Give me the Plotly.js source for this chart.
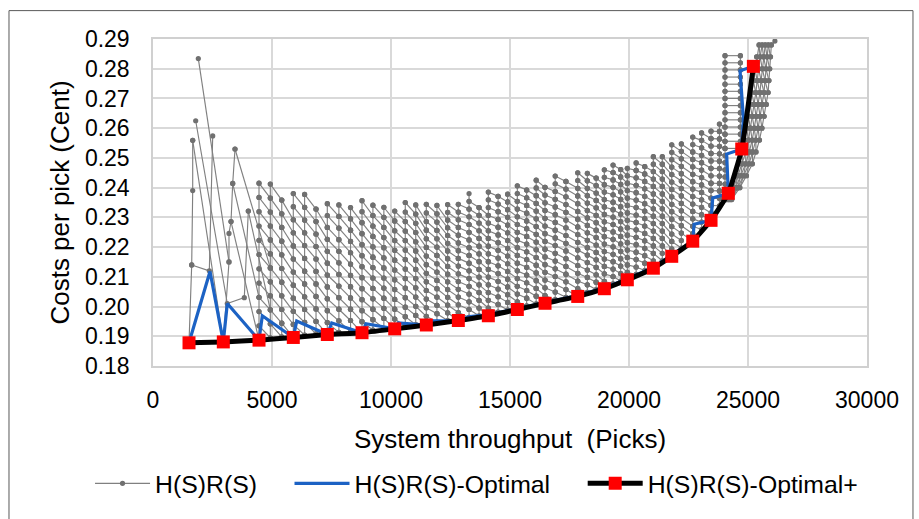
<!DOCTYPE html>
<html><head><meta charset="utf-8">
<script src="https://cdn.plot.ly/plotly-3.0.1.min.js"></script>
<style>html,body{margin:0;padding:0;background:#fff;}#chart{width:919px;height:519px;}</style>
</head><body><div id="chart"></div>
<script>
// ---------- H(S)R(S)-Optimal+ (red squares, black line) ----------
const optPlusX = [1513,2954,4454,5895,7324,8782,10156,11484,12829,14090,15308,16472,17846,18964,19930,21023,21796,22678,23447,24174,24737,25225];
const optPlusY = [0.1878,0.1881,0.1887,0.1896,0.1906,0.1912,0.1925,0.1938,0.1953,0.1969,0.1990,0.2011,0.2034,0.2060,0.2090,0.2129,0.2169,0.2220,0.2290,0.2381,0.2530,0.2808];

// ---------- H(S)R(S)-Optimal (blue) ----------
const optX = [1513,2395,2954,3122,4454,4593,5895,6038,7324,7509,8782,8950,10156,10307,11484,11700,12829,13300,14090,15308,16472,17846,18964,19930,21023,21796,22678,22735,23447,23518,24174,24103,24737,24806,24666,25225];
const optY = [0.1878,0.2118,0.1881,0.2010,0.1887,0.1969,0.1896,0.1951,0.1906,0.1945,0.1912,0.1942,0.1925,0.1945,0.1938,0.1952,0.1953,0.1966,0.1972,0.1993,0.2014,0.2037,0.2063,0.2093,0.2132,0.2172,0.2220,0.2277,0.2290,0.2365,0.2381,0.2513,0.2530,0.2634,0.2793,0.2808];

// ---------- H(S)R(S) (grey): loose left-hand lines (null = break) ----------
const extraX = [1513,1626,1668,1668,null, 1626,2366,2509,null, 1904,3193,null, 1794,3122,3836,4005,null,
  2954,3193,3193,3278,3349,3446,null, 3278,4454,null, 3446,4930,null, 3349,4454,null, 1668,2954,null, 4005,4930,null, 25981,26130];
const extraY = [0.1878,0.2140,0.2390,0.2559,null, 0.2140,0.2120,0.2574,null, 0.2834,0.2150,null, 0.2625,0.2010,0.2030,0.2321,null,
  0.1881,0.2150,0.2246,0.2286,0.2414,0.2530,null, 0.2286,0.1887,null, 0.2530,0.2130,null, 0.2414,0.2031,null, 0.2559,0.1881,null, 0.2321,0.1989,null, 0.2880,0.2893];

// grey configurations: one throughput column per entry, costs listed bottom to top
const meshX = [4454,4930,5410,5895,6370,6850,7324,7810,8300,8782,9240,9700,10156,10600,11040,11484,11930,12380,12829,13280,13700,14090,14500,14900,15308,15700,16100,16472,16900,17350,17846,18250,18620,18964,19330,19650,19930,20300,20660,21023,21400,21796,22200,22678,23050,23447,23800,24035,24680];
const meshY = [
 [.1887,.1935,.1983,.2031,.2079,.2127,.2175,.2223,.2271,.2319,.2367,.2415],
 [.1895,.1942,.1989,.2036,.2083,.2130,.2177,.2224,.2271,.2318,.2365,.2412],
 [.1898,.1944,.1990,.2036,.2082,.2128,.2174,.2220,.2266,.2312,.2358],
 [.1896,.1940,.1984,.2028,.2072,.2116,.2160,.2204,.2248,.2292,.2336,.2380],
 [.1904,.1947,.1990,.2033,.2076,.2119,.2162,.2205,.2248,.2291,.2334,.2377],
 [.1908,.1950,.1992,.2034,.2076,.2118,.2160,.2202,.2244,.2286,.2328],
 [.1906,.1946,.1986,.2026,.2066,.2106,.2146,.2186,.2226,.2266,.2306,.2346],
 [.1913,.1952,.1991,.2030,.2069,.2108,.2147,.2186,.2225,.2264,.2303,.2342],
 [.1915,.1953,.1991,.2029,.2067,.2105,.2143,.2181,.2219,.2257,.2295,.2333],
 [.1912,.1949,.1986,.2023,.2060,.2097,.2134,.2171,.2208,.2245,.2282,.2319,.2356],
 [.1921,.1956,.1991,.2026,.2061,.2096,.2131,.2166,.2201,.2236,.2271,.2306,.2341],
 [.1926,.1960,.1994,.2028,.2062,.2096,.2130,.2164,.2198,.2232,.2266,.2300,.2334],
 [.1925,.1958,.1991,.2024,.2057,.2090,.2123,.2156,.2189,.2222,.2255,.2288,.2321],
 [.1934,.1966,.1998,.2030,.2062,.2094,.2126,.2158,.2190,.2222,.2254,.2286,.2318,.2350],
 [.1939,.1970,.2001,.2032,.2063,.2094,.2125,.2156,.2187,.2218,.2249,.2280,.2311,.2342],
 [.1938,.1967,.1996,.2025,.2054,.2083,.2112,.2141,.2170,.2199,.2228,.2257,.2286,.2315,.2344],
 [.1948,.1976,.2004,.2032,.2060,.2088,.2116,.2144,.2172,.2200,.2228,.2256,.2284,.2312,.2340],
 [.1953,.1979,.2005,.2031,.2057,.2083,.2109,.2135,.2161,.2187,.2213,.2239,.2265,.2291,.2317,.2343],
 [.1953,.1980,.2006,.2032,.2058,.2084,.2110,.2136,.2162,.2188,.2214,.2240,.2266,.2292,.2318,.2344],
 [.1964,.1990,.2016,.2042,.2068,.2094,.2120,.2146,.2172,.2198,.2224,.2250,.2276,.2302,.2328,.2354,.2380],
 [.1969,.1995,.2021,.2047,.2073,.2099,.2125,.2151,.2177,.2203,.2229,.2255,.2281,.2307,.2333],
 [.1969,.1995,.2021,.2047,.2073,.2099,.2125,.2151,.2177,.2203,.2229,.2255,.2281,.2307,.2333,.2359,.2385],
 [.1981,.2007,.2033,.2059,.2085,.2111,.2137,.2163,.2189,.2215,.2241,.2267,.2293,.2319,.2345,.2371],
 [.1988,.2014,.2040,.2066,.2092,.2118,.2144,.2170,.2196,.2222,.2248,.2274,.2300,.2326,.2352,.2378],
 [.1990,.2016,.2042,.2068,.2094,.2120,.2146,.2172,.2198,.2224,.2250,.2276,.2302,.2328,.2354,.2380,.2406],
 [.2002,.2028,.2054,.2080,.2106,.2132,.2158,.2184,.2210,.2236,.2262,.2288,.2314,.2340,.2366,.2392],
 [.2009,.2035,.2061,.2087,.2113,.2139,.2165,.2191,.2217,.2243,.2269,.2295,.2321,.2347,.2373,.2399,.2425],
 [.2011,.2037,.2063,.2089,.2115,.2141,.2167,.2193,.2219,.2245,.2271,.2297,.2323,.2349,.2375,.2401],
 [.2023,.2049,.2075,.2101,.2127,.2153,.2179,.2205,.2231,.2257,.2283,.2309,.2335,.2361,.2387,.2413,.2439],
 [.2031,.2057,.2083,.2109,.2135,.2161,.2187,.2213,.2239,.2265,.2291,.2317,.2343,.2369,.2395,.2421],
 [.2034,.2060,.2086,.2112,.2138,.2164,.2190,.2216,.2242,.2268,.2294,.2320,.2346,.2372,.2398,.2424,.2450],
 [.2048,.2073,.2098,.2123,.2148,.2173,.2198,.2223,.2248,.2273,.2298,.2323,.2348,.2373,.2398,.2423,.2448],
 [.2057,.2082,.2107,.2132,.2157,.2182,.2207,.2232,.2257,.2282,.2307,.2332,.2357,.2382,.2407,.2432],
 [.2060,.2085,.2110,.2135,.2160,.2185,.2210,.2235,.2260,.2285,.2310,.2335,.2360,.2385,.2410,.2435,.2460],
 [.2076,.2101,.2126,.2151,.2176,.2201,.2226,.2251,.2276,.2301,.2326,.2351,.2376,.2401,.2426,.2451,.2476],
 [.2086,.2111,.2136,.2161,.2186,.2211,.2236,.2261,.2286,.2311,.2336,.2361,.2386,.2411,.2436,.2461],
 [.2090,.2115,.2140,.2165,.2190,.2215,.2240,.2265,.2290,.2315,.2340,.2365,.2390,.2415,.2440,.2465],
 [.2108,.2133,.2158,.2183,.2208,.2233,.2258,.2283,.2308,.2333,.2358,.2383,.2408,.2433,.2458,.2483],
 [.2121,.2146,.2171,.2196,.2221,.2246,.2271,.2296,.2321,.2346,.2371,.2396,.2421,.2446,.2471],
 [.2129,.2154,.2179,.2204,.2229,.2254,.2279,.2304,.2329,.2354,.2379,.2404,.2429,.2454,.2479,.2504],
 [.2154,.2179,.2204,.2229,.2254,.2279,.2304,.2329,.2354,.2379,.2404,.2429,.2454,.2479,.2504],
 [.2169,.2194,.2219,.2244,.2269,.2294,.2319,.2344,.2369,.2394,.2419,.2444,.2469,.2494,.2519,.2544],
 [.2197,.2222,.2247,.2272,.2297,.2322,.2347,.2372,.2397,.2422,.2447,.2472,.2497,.2522,.2547],
 [.2220,.2245,.2270,.2295,.2320,.2345,.2370,.2395,.2420,.2445,.2470,.2495,.2520,.2545,.2570],
 [.2259,.2284,.2309,.2334,.2359,.2384,.2409,.2434,.2459,.2484,.2509,.2534,.2559,.2584],
 [.2290,.2315,.2340,.2365,.2390,.2415,.2440,.2465,.2490,.2515,.2540,.2565,.2590],
 [.2339,.2364,.2389,.2414,.2439,.2464,.2489,.2514,.2539,.2564,.2589,.2614],
 [.2364,.2388,.2412,.2436,.2460,.2484,.2508,.2532,.2556,.2580,.2604,.2628,.2652,.2676,.2700,.2724,.2748,.2772,.2796,.2820,.2844],
 [.2532,.2556,.2580,.2604,.2628,.2652,.2676,.2700,.2724,.2748,.2772,.2796,.2820,.2844]
];
// which level of the next column each point is joined to (j -> j - link); -1 = none
const meshLink = [1,1,1,1,1,1,1,1,1,1,1,1,1,1,1,1,1,1,1,1,1,1,1,1,1,1,1,1,1,1,1,1,1,1,1,1,1,1,1,2,2,2,2,2,2,2,1,7,-1];

// right-hand dense band (beyond the optimal curve)
const bandLevels = [.236,.240,.244,.248,.252,.256,.260,.264,.268,.272,.276,.280,.284,.288];
const bandX = [
 [24040,24291,24457,24619,24770,24867,24941,25013,25085,25156,25222,25288,25363,25465],
 [24109,24382,24576,24760,24911,25021,25102,25179,25256,25329,25386,25444,25508,25594],
 [24178,24473,24696,24901,25053,25175,25263,25345,25427,25501,25551,25600,25654,25723],
 [24247,24564,24816,25042,25195,25328,25424,25511,25598,25673,25715,25755,25800,25852],
 [24316,24655,24935,25183,25336,25482,25585,25677,25769,25846,25879,25911,25945,25981]
];

// ---------- build the grey polyline set ----------
const gx = [], gy = [];
function pt(x, y) { gx.push(x); gy.push(y); }
function brk() { gx.push(null); gy.push(null); }
extraX.forEach((x, i) => pt(x, extraY[i])); brk();
meshX.forEach((x, k) => { meshY[k].forEach(y => pt(x, y)); brk(); });
meshX.forEach((x, k) => {
  const s = meshLink[k];
  if (s < 0 || k + 1 >= meshX.length) return;
  meshY[k].forEach((y, j) => {
    const t = meshY[k + 1][j - s];
    if (t !== undefined) { pt(x, y); pt(meshX[k + 1], t); brk(); }
  });
});
bandX.forEach(col => { col.forEach((x, L) => pt(x, bandLevels[L])); brk(); });
bandX.forEach((col, i) => {
  if (i + 1 >= bandX.length) return;
  col.forEach((x, L) => { if (L >= 1) { pt(x, bandLevels[L]); pt(bandX[i + 1][L - 1], bandLevels[L - 1]); brk(); } });
});

const FONT = 'Liberation Sans, Arial, sans-serif';
const NB = '\u00a0';
const traces = [
  { name: 'H(S)R(S)' + NB.repeat(4), x: gx, y: gy, type: 'scatter', mode: 'lines+markers',
    line: { color: '#808080', width: 1.15 }, marker: { color: '#707070', size: 5.2 }, hoverinfo: 'skip' },
  { name: 'H(S)R(S)-Optimal' + NB.repeat(4), x: optX, y: optY, type: 'scatter', mode: 'lines',
    line: { color: '#1c62c4', width: 3.2 } },
  { name: 'H(S)R(S)-Optimal+', x: optPlusX, y: optPlusY, type: 'scatter', mode: 'lines+markers',
    line: { color: '#000000', width: 5, shape: 'spline', smoothing: 0.4 },
    marker: { symbol: 'square', color: '#ff0000', size: 13 } }
];

const layout = {
  width: 919, height: 519,
  margin: { l: 153, r: 52, t: 39, b: 146 },
  paper_bgcolor: '#fff', plot_bgcolor: '#fff',
  font: { family: FONT, color: '#000', size: 23 },
  showlegend: true,
  xaxis: {
    range: [0, 30000], tickvals: [0,5000,10000,15000,20000,25000,30000], ticktext: ['0','5000','10000','15000','20000','25000','30000'],
    showgrid: true, gridcolor: '#d9d9d9', gridwidth: 1.5, zeroline: false,
    showline: true, linecolor: '#d0d0d0', linewidth: 1.5, mirror: true,
    ticks: '', ticklabelstandoff: 13, tickfont: { size: 23, family: FONT },
    title: { text: 'System throughput\u00a0 (Picks)', font: { size: 26, family: FONT }, standoff: 17 },
    automargin: false
  },
  yaxis: {
    range: [0.18, 0.29], tickvals: [0.18,0.19,0.20,0.21,0.22,0.23,0.24,0.25,0.26,0.27,0.28,0.29], tickformat: '.2f',
    showgrid: true, gridcolor: '#d9d9d9', gridwidth: 1.5, zeroline: false,
    showline: true, linecolor: '#d0d0d0', linewidth: 1.5, mirror: true,
    ticks: '', ticklabelstandoff: 17, tickfont: { size: 23, family: FONT },
    title: { text: 'Costs per pick (Cent)', font: { size: 26, family: FONT }, standoff: 8 },
    automargin: false
  },
  legend: { orientation: 'h', x: -0.0882, xanchor: 'left', y: -0.36, yanchor: 'middle',
    font: { size: 24.8, family: FONT }, itemwidth: 55, bgcolor: 'rgba(0,0,0,0)' },
  shapes: [{ type: 'rect', xref: 'paper', yref: 'paper', x0: -0.2017, x1: 1.0644, y0: -0.48, y1: 1.0868,
    line: { color: '#595959', width: 1 }, fillcolor: 'rgba(0,0,0,0)', layer: 'below' }]
};

Plotly.newPlot('chart', traces, layout, { displayModeBar: false, responsive: false });
</script></body></html>
